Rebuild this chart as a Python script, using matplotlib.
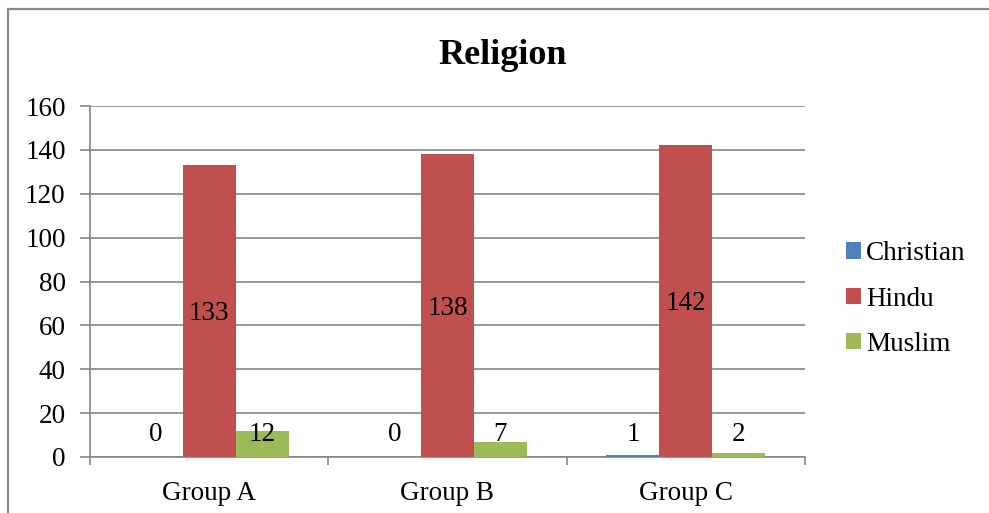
import matplotlib
matplotlib.use("Agg")
import matplotlib.pyplot as plt
import numpy as np
from matplotlib.patches import Rectangle

groups = ["Group A", "Group B", "Group C"]
christian = [0, 0, 1]
hindu = [133, 138, 142]
muslim = [12, 7, 2]

series = [("Christian", christian, "#4F81BD"),
          ("Hindu", hindu, "#C0504D"),
          ("Muslim", muslim, "#9BBB59")]

plt.rcParams["font.family"] = ["Liberation Serif", "DejaVu Serif"]

W, H = 989, 513
fig = plt.figure(figsize=(W / 100, H / 100), dpi=100)
ax = fig.add_axes([90 / W, 1 - 457 / H, (805 - 90) / W, (457 - 106) / H])

# outer chart frame, runs off the right and bottom edges
fig.patches.append(Rectangle((8 / W, -0.1), 1.2, 1 - 9 / H + 0.1,
                             transform=fig.transFigure, fill=False,
                             edgecolor="#898989", linewidth=1.6, zorder=0))

x = np.arange(len(groups))
width = 1 / 4.5  # 150% gap between clusters
for i, (name, vals, color) in enumerate(series):
    pos = x + (i - 1) * width
    ax.bar(pos, vals, width, color=color, label=name, zorder=3,
           edgecolor="none")
    for px, v in zip(pos, vals):
        ax.text(px, max(v / 2, 11.4) - 1.2, str(v), ha="center", va="center",
                fontsize=19.5, color="black", zorder=4)

ax.set_xlim(-0.5, 2.5)
ax.set_ylim(0, 160)
ax.set_yticks(range(0, 161, 20))
ax.yaxis.grid(True, color="#868686", linewidth=1.2, zorder=1)
ax.set_axisbelow(True)

ax.set_xticks(x)
ax.set_xticklabels(groups)
ax.set_xticks([-0.5, 0.5, 1.5, 2.5], minor=True)
ax.tick_params(axis="x", which="major", length=0, pad=17, labelsize=19.5)
ax.tick_params(axis="x", which="minor", length=6, width=1.2, color="#868686",
               direction="out")
ax.tick_params(axis="y", length=7.5, width=1.2, color="#868686", pad=10,
               labelsize=19.5)

for side in ["top", "right"]:
    ax.spines[side].set_visible(False)
for side in ["left", "bottom"]:
    ax.spines[side].set_color("#868686")
    ax.spines[side].set_linewidth(1.2)

fig.text(503 / W, 1 - 56 / H, "Religion", ha="center", va="center",
         fontsize=26, fontweight="bold")

fig.legend(loc="center left", bbox_to_anchor=(846 / W, 1 - 299 / H),
           frameon=False, fontsize=19.5, handlelength=0.55, handleheight=0.55,
           handletextpad=0.2, labelspacing=0.75, borderaxespad=0,
           borderpad=0)

fig.savefig("out.png", dpi=100, facecolor="white")
